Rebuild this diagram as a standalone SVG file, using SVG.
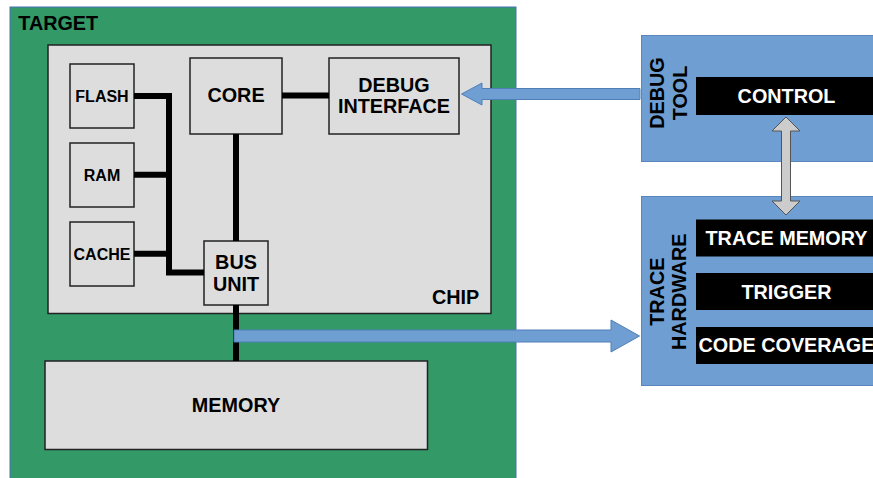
<svg xmlns="http://www.w3.org/2000/svg" width="873" height="478" viewBox="0 0 873 478">
  <style>
    .lbl { font-family: "Liberation Sans", Arial, sans-serif; font-weight: bold; font-size: 19.8px; fill: #000; }
    .sm { font-size: 16px; }
    .inv { fill: #fff; }
    .mid { text-anchor: middle; }
    .box { fill: #dddddd; stroke: #222; stroke-width: 1.5; }
    .tool { fill: #6f9fd2; stroke: #5a86bf; stroke-width: 1; }
    .blk { fill: #000; }
    .bus { fill: none; stroke: #000; stroke-width: 6; stroke-linejoin: miter; }
    .flow { fill: #6f9fd2; stroke: #4f7fb8; stroke-width: 1; }
    .dbl { fill: #cccccc; stroke: #555; stroke-width: 1; }
  </style>

  <!-- target board -->
  <g id="target">
    <rect x="10" y="7" width="506" height="476" fill="#339966" stroke="#4a70b8" stroke-width="1"/>
    <text class="lbl" x="18.3" y="30">TARGET</text>
  </g>

  <!-- chip -->
  <g id="chip">
    <rect class="box" x="48" y="45" width="443" height="268.5"/>
    <text class="lbl" x="432" y="304">CHIP</text>
  </g>

  <g id="flash">
    <rect class="box" x="70" y="64" width="64" height="64"/>
    <text class="lbl sm mid" x="102" y="101.7">FLASH</text>
  </g>
  <g id="ram">
    <rect class="box" x="70" y="143" width="64" height="64"/>
    <text class="lbl sm mid" x="102" y="180.5">RAM</text>
  </g>
  <g id="cache">
    <rect class="box" x="70" y="222" width="64" height="64"/>
    <text class="lbl sm mid" x="102" y="260">CACHE</text>
  </g>
  <g id="core">
    <rect class="box" x="190" y="58" width="92" height="76"/>
    <text class="lbl mid" x="236" y="102.3">CORE</text>
  </g>
  <g id="debug-interface">
    <rect class="box" x="329" y="58" width="130" height="76"/>
    <text class="lbl mid" x="394" y="92.3">DEBUG</text>
    <text class="lbl mid" x="394" y="113.3">INTERFACE</text>
  </g>
  <g id="bus-unit">
    <rect class="box" x="204" y="241" width="64" height="64"/>
    <text class="lbl mid" x="236" y="269">BUS</text>
    <text class="lbl mid" x="236" y="290.7">UNIT</text>
  </g>
  <g id="memory">
    <rect class="box" x="45" y="361" width="382.5" height="88.5"/>
    <text class="lbl mid" x="236" y="411.7">MEMORY</text>
  </g>

  <!-- debug tool -->
  <g id="debug-tool">
    <rect class="tool" x="641.5" y="35.5" width="240" height="126"/>
    <text class="lbl mid" transform="translate(663.5,93) rotate(-90)">DEBUG</text>
    <text class="lbl mid" transform="translate(687,93) rotate(-90)">TOOL</text>
  </g>
  <g id="control">
    <rect class="blk" x="696" y="77" width="190" height="38"/>
    <text class="lbl inv mid" x="786.5" y="103.3">CONTROL</text>
  </g>

  <!-- trace hardware -->
  <g id="trace-hardware">
    <rect class="tool" x="641.5" y="196.5" width="240" height="189"/>
    <text class="lbl mid" transform="translate(663.5,291.7) rotate(-90)">TRACE</text>
    <text class="lbl mid" transform="translate(686,291.7) rotate(-90)">HARDWARE</text>
  </g>
  <g id="trace-memory">
    <rect class="blk" x="696" y="219.5" width="190" height="37"/>
    <text class="lbl inv mid" x="786.5" y="245">TRACE MEMORY</text>
  </g>
  <g id="trigger">
    <rect class="blk" x="696" y="273" width="190" height="37"/>
    <text class="lbl inv mid" x="786.5" y="299.3">TRIGGER</text>
  </g>
  <g id="code-coverage">
    <rect class="blk" x="696" y="327" width="190" height="37"/>
    <text class="lbl inv mid" x="786.5" y="351.7">CODE COVERAGE</text>
  </g>

  <!-- connectors -->
  <g id="connectors">
    <path class="bus" d="M134,96 H169 V272.5 H204"/>
    <path class="bus" d="M134,174.7 H169"/>
    <path class="bus" d="M134,253.7 H169"/>
    <path class="bus" d="M236,134 V241"/>
    <path class="bus" d="M236,305 V361"/>
    <path class="bus" d="M282,95.5 H329"/>
    <polygon class="flow" points="640,88.5 482,88.5 482,83 461.5,94 482,105 482,99.5 640,99.5"/>
    <polygon class="flow" points="234,330 611,330 611,320 639.5,336 611,352 611,342 234,342"/>
    <polygon class="dbl" points="786,117 800,131 790.5,131 790.5,201 800,201 786,215 772,201 781.5,201 781.5,131 772,131"/>
  </g>
</svg>
